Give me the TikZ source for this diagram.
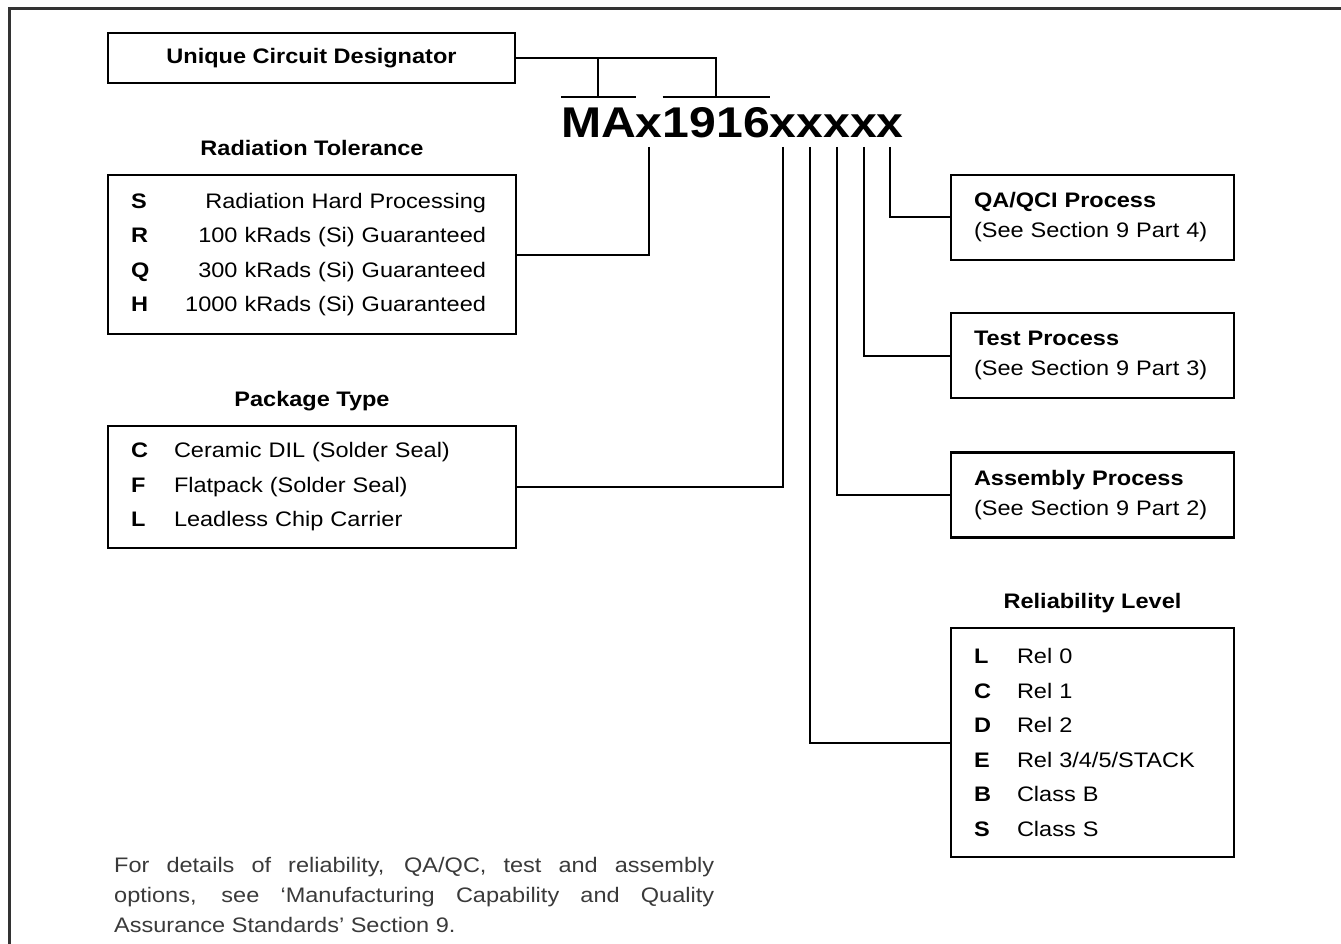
\documentclass[tikz,border=0pt]{standalone}
\usepackage{fontspec}
\setmainfont{Liberation Sans}[FakeStretch=1.12]
\usepackage{tikz}
\usetikzlibrary{positioning}
\definecolor{FrameGray}{HTML}{333333}
\definecolor{NoteGray}{HTML}{3A3A3A}
\newcommand{\radrow}[2]{\makebox[355pt]{\textbf{#1}\hfill #2}}
\newcommand{\optrow}[2]{\makebox[43pt][l]{\textbf{#1}}#2}
\newcommand{\nohyph}{\hyphenpenalty 10000 \tolerance 10000 \relax}
\tikzset{
  % Box styles
  namebox/.style={rectangle, draw=black, line width=2.5pt, minimum width=407pt, minimum height=50pt, inner sep=0pt, font=\fontsize{21pt}{25pt}\selectfont\bfseries},
  listbox/.style={rectangle, draw=black, line width=2.5pt, inner xsep=23pt, inner ysep=0pt, align=left, font=\fontsize{21pt}{34.5pt}\selectfont},
  procbox/.style={rectangle, draw=black, line width=2.5pt, minimum width=283pt, minimum height=85pt, text width=237pt, inner xsep=23pt, inner ysep=0pt, align=left, font=\fontsize{21pt}{30pt}\selectfont},
  % Text styles
  titlelabel/.style={inner sep=0pt, text depth=0pt, font=\fontsize{21pt}{25pt}\selectfont\bfseries},
  codepart/.style={inner sep=0pt, outer sep=0pt, text height=31pt, text depth=0pt, font=\fontsize{43pt}{50pt}\selectfont\bfseries},
  note/.style={inner sep=0pt, text width=600pt, align=justify, text=NoteGray, font=\fontsize{21pt}{30pt}\selectfont\nohyph},
  % Line styles
  link/.style={line width=2pt, black},
  frame/.style={line width=3pt, FrameGray}
}

\begin{document}
\begin{tikzpicture}[x=1pt, y=-1pt]
  \useasboundingbox (0,0) rectangle (1341,944);
  \draw[frame] (9,970) -- (9,9) -- (1370,9);

  % Part number
  \node[codepart, anchor=base west] (codeMA) at (561,138) {MA};
  \node[codepart, base right=0pt of codeMA] (codeRad) {x};
  \node[codepart, base right=0pt of codeRad] (codeNum) {1916};
  \node[codepart, base right=0pt of codeNum] (codePkg) {x};
  \node[codepart, base right=0pt of codePkg] (codeRel) {x};
  \node[codepart, base right=0pt of codeRel] (codeAssy) {x};
  \node[codepart, base right=0pt of codeAssy] (codeTest) {x};
  \node[codepart, base right=0pt of codeTest] (codeQA) {x};

  % Left column
  \node[namebox] (designator) at (311.5,58) {Unique Circuit Designator};

  \node[listbox, minimum width=408pt, minimum height=159pt, text width=362pt] (radtol) at (312,254.5) {
    \radrow{S}{Radiation Hard Processing}\\
    \radrow{R}{100 kRads (Si) Guaranteed}\\
    \radrow{Q}{300 kRads (Si) Guaranteed}\\
    \radrow{H}{1000 kRads (Si) Guaranteed}
  };
  \node[titlelabel, above=18pt of radtol] (radtitle) {Radiation Tolerance};

  \node[listbox, minimum width=408pt, minimum height=122pt, text width=362pt] (pkgtype) at (312,487) {
    \optrow{C}{Ceramic DIL (Solder Seal)}\\
    \optrow{F}{Flatpack (Solder Seal)}\\
    \optrow{L}{Leadless Chip Carrier}
  };
  \node[titlelabel, above=18pt of pkgtype] (pkgtitle) {Package Type};

  % Right column
  \node[procbox] (qaqci) at (1092.5,217.5) {\textbf{QA/QCI Process}\\(See Section 9 Part 4)};
  \node[procbox] (testproc) at (1092.5,355.5) {\textbf{Test Process}\\(See Section 9 Part 3)};
  \node[procbox] (assyproc) at (1092.5,495) {\textbf{Assembly Process}\\(See Section 9 Part 2)};

  \node[listbox, minimum width=283pt, minimum height=229pt, text width=237pt] (rellevel) at (1092.5,742.5) {
    \optrow{L}{Rel 0}\\
    \optrow{C}{Rel 1}\\
    \optrow{D}{Rel 2}\\
    \optrow{E}{Rel 3/4/5/STACK}\\
    \optrow{B}{Class B}\\
    \optrow{S}{Class S}
  };
  \node[titlelabel, above=18pt of rellevel] (reltitle) {Reliability Level};

  % Links
  \draw[link] (designator.east) -| ([yshift=10pt]codeNum.north);
  \draw[link] (designator.east -| codeMA.north) -- ([yshift=10pt]codeMA.north);
  \draw[link] ([yshift=10pt]codeMA.north west) -- ([yshift=10pt]codeMA.north east);
  \draw[link] ([yshift=10pt]codeNum.north west) -- ([yshift=10pt]codeNum.north east);

  \draw[link] ([yshift=-9pt]codeRad.south) |- (radtol.east);
  \draw[link] ([yshift=-9pt]codePkg.south) |- (pkgtype.east);
  \draw[link] ([yshift=-9pt]codeRel.south) |- (rellevel.west);
  \draw[link] ([yshift=-9pt]codeAssy.south) |- (assyproc.west);
  \draw[link] ([yshift=-9pt]codeTest.south) |- (testproc.west);
  \draw[link] ([yshift=-9pt]codeQA.south) |- (qaqci.west);

  % Footnote
  \node[note, anchor=base west] (footnote) at (114,872) {For details of reliability, QA/QC, test and assembly\linebreak options, see ‘Manufacturing Capability and Quality\linebreak Assurance Standards’ Section 9.};
\end{tikzpicture}
\end{document}
